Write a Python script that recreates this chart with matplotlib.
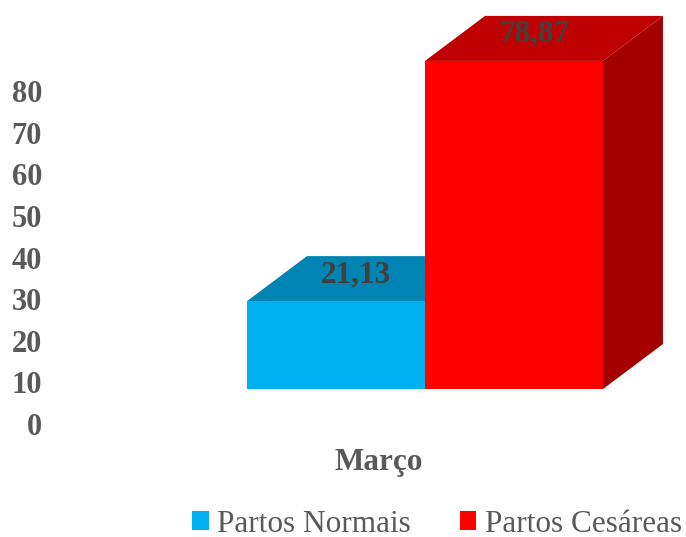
import matplotlib
matplotlib.use("Agg")
import matplotlib.pyplot as plt
from matplotlib.patches import Polygon, Patch

# ---- data ----
category = "Março"
series_names = ["Partos Normais", "Partos Cesáreas"]
values = [21.13, 78.87]
value_labels = ["21,13", "78,87"]
yticks = [0, 10, 20, 30, 40, 50, 60, 70, 80]

# ---- style ----
front_colors = ["#00B0F0", "#FF0000"]
top_colors = ["#0084B4", "#BF0000"]
side_colors = ["#0075A0", "#A50000"]
tick_color = "#595959"
label_color = "#404040"
plt.rcParams["font.family"] = ["Liberation Serif", "DejaVu Serif"]

W, H = 686, 537
fig = plt.figure(figsize=(W / 100, H / 100), dpi=100)
ax = fig.add_axes([0, 0, 1, 1])
k = 4.16            # pixels per value unit
zero_px = 425       # pixel row of the "0" tick label
ax.set_xlim(0, W)
ax.set_ylim((zero_px - H) / k, zero_px / k)
ax.axis("off")

bar_w = 178
first_left = 247
front_base = 8.65   # front face bottom in value units
dx, dy = 60, 45 / k  # depth offset

for i, v in enumerate(values):
    x0 = first_left + i * bar_w
    x1 = x0 + bar_w
    b = front_base
    t = front_base + v
    top = Polygon([(x0, t), (x1, t), (x1 + dx, t + dy), (x0 + dx, t + dy)],
                  closed=True, facecolor=top_colors[i], edgecolor="none", zorder=2 + 3 * i)
    side = Polygon([(x1, b), (x1 + dx, b + dy), (x1 + dx, t + dy), (x1, t)],
                   closed=True, facecolor=side_colors[i], edgecolor="none", zorder=2 + 3 * i)
    ax.add_patch(top)
    ax.add_patch(side)
    ax.bar(x0, v, width=bar_w, bottom=b, align="edge", color=front_colors[i],
           edgecolor="none", zorder=3 + 3 * i)
    ax.text(x0 + bar_w / 2 + 20, t + 6.4, value_labels[i], ha="center", va="center",
            fontsize=22.5, fontweight="bold", color=label_color, zorder=20)

for tv in yticks:
    ax.text(42, tv - 0.6, str(tv), ha="right", va="center", fontsize=22,
            fontweight="bold", color=tick_color)

ax.text(379, -8.9, category, ha="center", va="center", fontsize=22.5,
        fontweight="bold", color=tick_color)

handles = [Patch(facecolor=c, edgecolor="none") for c in front_colors]
leg = fig.legend(handles, series_names, loc="center",
                 bbox_to_anchor=(437 / W, 1 - 524 / H), ncol=2, frameon=False,
                 fontsize=22.5, handlelength=0.52, handleheight=0.52,
                 handletextpad=0.28, columnspacing=1.55, borderaxespad=0,
                 borderpad=0)
for t in leg.get_texts():
    t.set_color(tick_color)

fig.savefig("out.png", dpi=100)
